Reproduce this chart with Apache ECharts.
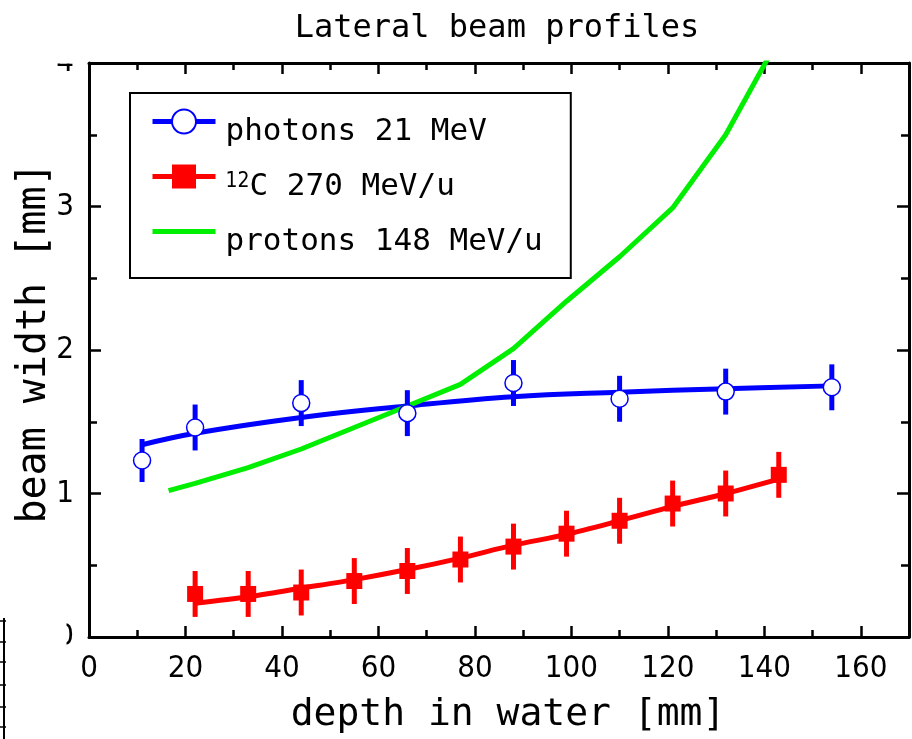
<!DOCTYPE html>
<html>
<head>
<meta charset="utf-8">
<script src="https://cdn.jsdelivr.net/npm/echarts@6/dist/echarts.min.js"></script>
<style>
html,body{margin:0;padding:0;background:#fff;}
#chart{width:912px;height:739px;}
</style>
</head>
<body>
<div id="chart"></div>
<script>
// ---- data ----
const photonX   = [11, 22, 44, 66, 88, 110, 132, 154];
const photonY   = [1.23, 1.46, 1.63, 1.56, 1.77, 1.66, 1.71, 1.74];
const photonErr = [0.15, 0.16, 0.16, 0.16, 0.16, 0.16, 0.16, 0.16];

const photonFitX = [11, 22, 44, 66, 88, 110, 132, 154];
const photonFitY = [1.34, 1.42, 1.53, 1.61, 1.675, 1.706, 1.73, 1.75];

const carbonX   = [22, 33, 44, 55, 66, 77, 88, 99, 110, 121, 132, 143];
const carbonY   = [0.30, 0.30, 0.31, 0.39, 0.46, 0.54, 0.63, 0.72, 0.81, 0.93, 1.00, 1.13];
const carbonErr = [0.16, 0.16, 0.16, 0.16, 0.16, 0.16, 0.16, 0.16, 0.16, 0.16, 0.16, 0.16];

const carbonFitX = [22, 33, 44, 55, 66, 77, 88, 99, 110, 121, 132, 143];
const carbonFitY = [0.235, 0.28, 0.34, 0.40, 0.47, 0.55, 0.64, 0.715, 0.81, 0.91, 1.00, 1.10];

const protonX = [16.5, 22, 33, 44, 55, 66, 77, 88, 99, 110, 121, 132, 143];
const protonY = [1.02, 1.07, 1.18, 1.31, 1.46, 1.61, 1.76, 2.01, 2.34, 2.65, 2.99, 3.50, 4.17];

const xTickLabels = ['0', '20', '40', '60', '80', '100', '120', '140', '160'];
const yTickLabels = ['0', '1', '2', '3', '4'];

const seriesNames = ['photons 21 MeV', '12C 270 MeV/u', 'protons 148 MeV/u'];
const titleText = 'Lateral beam profiles';
const xName = 'depth in water [mm]';
const yName = 'beam width [mm]';

// ---- styles ----
const BLUE = '#0000ff', RED = '#ff0000', GREEN = '#00ee00';
const MONO = "'DejaVu Sans Mono', 'Liberation Mono', monospace";
const NARROW = "'Liberation Sans Narrow', 'DejaVu Sans Condensed', 'Liberation Sans', sans-serif";
const black = '#000';

const pairs = (xs, ys) => xs.map((x, i) => [x, ys[i]]);
const bars = (xs, ys, es) => xs.map((x, i) => [x, ys[i] - es[i], ys[i] + es[i]]);

function errorBars(data, color) {
  return {
    type: 'custom', z: 3, silent: true, xAxisIndex: 0, yAxisIndex: 0,
    encode: { x: 0, y: [1, 2] }, data: data,
    renderItem: function (params, api) {
      const a = api.coord([api.value(0), api.value(1)]);
      const b = api.coord([api.value(0), api.value(2)]);
      return { type: 'line', shape: { x1: a[0], y1: a[1], x2: b[0], y2: b[1] },
               style: { stroke: color, lineWidth: 5 } };
    }
  };
}

const baseX = { type: 'value', min: 0, max: 170, splitLine: { show: false } };
const baseY = { type: 'value', min: 0, max: 4, interval: 1, splitLine: { show: false } };
const tickStyle = { color: black, width: 2.5 };
const frameLine = { show: true, onZero: false, lineStyle: { color: black, width: 3 } };

const chart = echarts.init(document.getElementById('chart'), null, { renderer: 'canvas' });
chart.setOption({
  animation: false, backgroundColor: '#fff',
  title: {
    text: titleText, left: 497, top: 13, textAlign: 'center', padding: 0,
    textStyle: { fontFamily: MONO, fontSize: 32, fontWeight: 'normal', color: black }
  },
  grid: { left: 89, top: 63, right: 2, bottom: 101 },
  legend: {
    orient: 'vertical', left: 130, top: 93, itemWidth: 63, itemHeight: 30, itemGap: 4,
    padding: [3, 28, 21, 20], borderColor: black, borderWidth: 2, backgroundColor: '#fff',
    selectedMode: false, lineStyle: { width: 5 },
    textStyle: {
      fontFamily: MONO, fontSize: 31, color: black, lineHeight: 31, padding: [20, 0, 0, 5],
      rich: {
        sup: { fontFamily: NARROW, fontSize: 21, lineHeight: 17, verticalAlign: 'top' },
        n: { fontFamily: MONO, fontSize: 31, lineHeight: 31 }
      }
    },
    formatter: function (name) { return name === seriesNames[1] ? '{sup|12}{n|C 270 MeV/u}' : name; },
    data: [
      { name: seriesNames[0] },
      { name: seriesNames[1] },
      { name: seriesNames[2], icon: 'path://M0,0H63V5H0Z' }
    ]
  },
  xAxis: [
    Object.assign({}, baseX, {
      position: 'bottom', interval: 20, axisLine: frameLine,
      axisTick: { show: true, inside: true, length: 11, lineStyle: tickStyle },
      axisLabel: {
        show: true, margin: 16, color: black, fontFamily: NARROW, fontSize: 31,
        formatter: function (v) { const s = String(v); return xTickLabels.indexOf(s) >= 0 ? s : ''; }
      },
      name: xName, nameLocation: 'middle', nameGap: 59,
      nameTextStyle: { fontFamily: MONO, fontSize: 38, color: black, padding: [0, 0, 0, 18] }
    }),
    Object.assign({}, baseX, {
      position: 'bottom', interval: 10, axisLine: { show: false, onZero: false },
      axisTick: { show: true, inside: true, length: 7, lineStyle: tickStyle }, axisLabel: { show: false }
    }),
    Object.assign({}, baseX, {
      position: 'top', interval: 20, axisLine: frameLine,
      axisTick: { show: true, inside: true, length: 11, lineStyle: tickStyle }, axisLabel: { show: false }
    }),
    Object.assign({}, baseX, {
      position: 'top', interval: 10, axisLine: { show: false, onZero: false },
      axisTick: { show: true, inside: true, length: 7, lineStyle: tickStyle }, axisLabel: { show: false }
    })
  ],
  yAxis: [
    Object.assign({}, baseY, {
      position: 'left', axisLine: frameLine,
      axisTick: { show: true, inside: true, length: 12, lineStyle: tickStyle },
      minorTick: { show: true, splitNumber: 2, length: 8, lineStyle: tickStyle },
      axisLabel: {
        show: true, margin: 15, color: black, fontFamily: NARROW, fontSize: 31,
        formatter: function (v) { const s = String(v); return yTickLabels.indexOf(s) >= 0 ? s : ''; }
      },
      name: yName, nameLocation: 'middle', nameGap: 34, nameMoveOverlap: false,
      nameTextStyle: { fontFamily: MONO, fontSize: 40, color: black, padding: [0, 0, 0, 14] }
    }),
    Object.assign({}, baseY, {
      position: 'right', axisLine: frameLine,
      axisTick: { show: true, inside: true, length: 12, lineStyle: tickStyle },
      minorTick: { show: true, splitNumber: 2, length: 8, lineStyle: tickStyle },
      axisLabel: { show: false }
    })
  ],
  series: [
    { name: seriesNames[0], type: 'line', z: 2, data: pairs(photonFitX, photonFitY), smooth: 0.4,
      symbol: 'emptyCircle', showSymbol: false, itemStyle: { color: BLUE }, lineStyle: { color: BLUE, width: 5 } },
    errorBars(bars(photonX, photonY, photonErr), BLUE),
    { type: 'scatter', z: 4, data: pairs(photonX, photonY), symbol: 'circle', symbolSize: 17,
      itemStyle: { color: '#fff', borderColor: BLUE, borderWidth: 1.5, opacity: 1 } },
    { name: seriesNames[1], type: 'line', z: 2, data: pairs(carbonFitX, carbonFitY), smooth: 0.3,
      symbol: 'rect', showSymbol: false, itemStyle: { color: RED }, lineStyle: { color: RED, width: 5 } },
    errorBars(bars(carbonX, carbonY, carbonErr), RED),
    { type: 'scatter', z: 4, data: pairs(carbonX, carbonY), symbol: 'rect', symbolSize: 16,
      itemStyle: { color: RED, opacity: 1 } },
    { name: seriesNames[2], type: 'line', z: 2, data: pairs(protonX, protonY), smooth: false,
      symbol: 'none', clip: true, itemStyle: { color: GREEN }, lineStyle: { color: GREEN, width: 5 } }
  ],
  graphic: [
    // tick labels partly hidden, as in the reference
    { id: 'c1', type: 'rect', z: 100, shape: { x: 30, y: 30, width: 56, height: 33.5 }, style: { fill: '#fff' } },
    { id: 'c2', type: 'rect', z: 100, shape: { x: 40, y: 620, width: 26.5, height: 40 }, style: { fill: '#fff' } },
    // edge of a neighbouring figure at the bottom left
    { id: 'e0', type: 'line', z: 100, shape: { x1: 4, y1: 618, x2: 4, y2: 739 }, style: { stroke: black, lineWidth: 2 } },
    { id: 'e1', type: 'line', z: 100, shape: { x1: 0, y1: 621, x2: 6, y2: 621 }, style: { stroke: black, lineWidth: 1.5 } },
    { id: 'e2', type: 'line', z: 100, shape: { x1: 0, y1: 642, x2: 6, y2: 642 }, style: { stroke: black, lineWidth: 1.5 } },
    { id: 'e3', type: 'line', z: 100, shape: { x1: 0, y1: 662, x2: 6, y2: 662 }, style: { stroke: black, lineWidth: 1.5 } },
    { id: 'e4', type: 'line', z: 100, shape: { x1: 0, y1: 685, x2: 6, y2: 685 }, style: { stroke: black, lineWidth: 1.5 } },
    { id: 'e5', type: 'line', z: 100, shape: { x1: 0, y1: 707, x2: 6, y2: 707 }, style: { stroke: black, lineWidth: 1.5 } },
    { id: 'e6', type: 'line', z: 100, shape: { x1: 0, y1: 727, x2: 6, y2: 727 }, style: { stroke: black, lineWidth: 1.5 } }
  ]
});
</script>
</body>
</html>
